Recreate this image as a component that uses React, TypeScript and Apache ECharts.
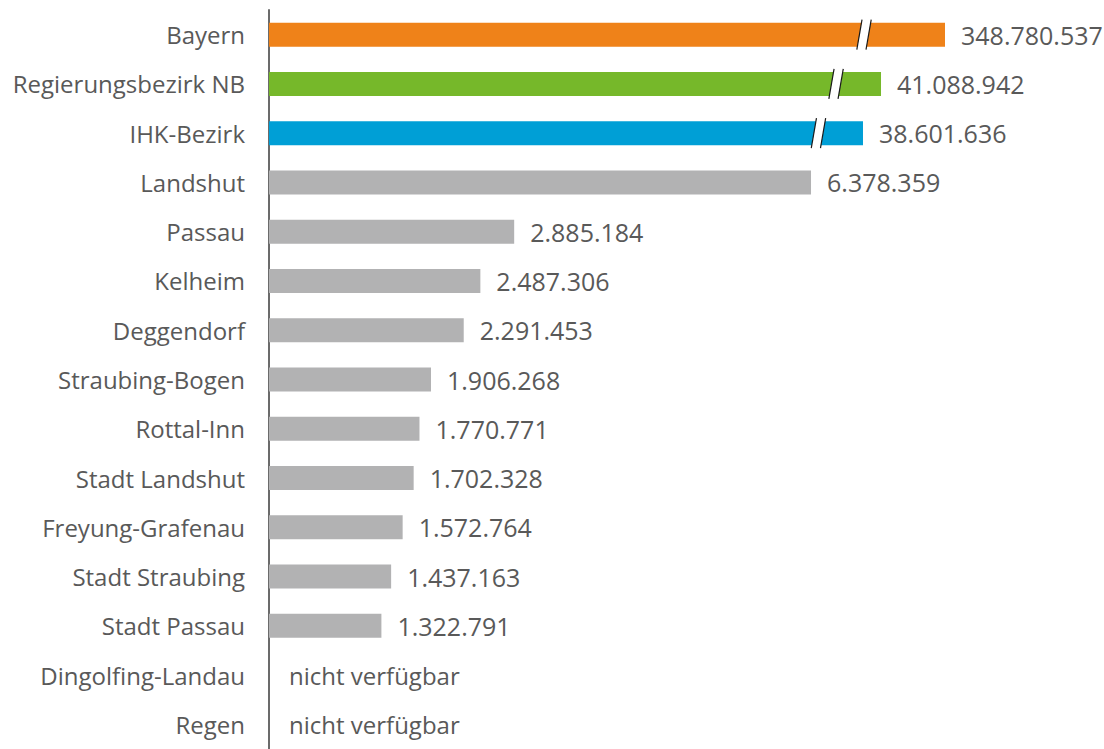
import React, { useEffect, useRef } from "react";
import * as echarts from "echarts";

const categories = [
  "Bayern",
  "Regierungsbezirk NB",
  "IHK-Bezirk",
  "Landshut",
  "Passau",
  "Kelheim",
  "Deggendorf",
  "Straubing-Bogen",
  "Rottal-Inn",
  "Stadt Landshut",
  "Freyung-Grafenau",
  "Stadt Straubing",
  "Stadt Passau",
  "Dingolfing-Landau",
  "Regen",
];

// actual values (null = nicht verfügbar)
const values: (number | null)[] = [
  348780537, 41088942, 38601636, 6378359, 2885184, 2487306, 2291453, 1906268,
  1770771, 1702328, 1572764, 1437163, 1322791, null, null,
];

// drawn bar length on the broken axis (only differs for the first three)
const displayValues: (number | null)[] = [
  7955000, 7202000, 6990000, 6378359, 2885184, 2487306, 2291453, 1906268,
  1770771, 1702328, 1572764, 1437163, 1322791, null, null,
];

// where the axis break mark sits (data units), per broken bar
const breakCategories = [0, 1, 2];
const breakValues = [7002000, 6673000, 6466000];

const barColors = [
  "#EF8219",
  "#76B82A",
  "#009FD6",
  "#B2B2B3",
  "#B2B2B3",
  "#B2B2B3",
  "#B2B2B3",
  "#B2B2B3",
  "#B2B2B3",
  "#B2B2B3",
  "#B2B2B3",
  "#B2B2B3",
  "#B2B2B3",
  "#B2B2B3",
  "#B2B2B3",
];

const naText = "nicht verfügbar";
const textColor = "#595959";
const fontFamily = "'Open Sans', sans-serif";

function fmt(v: number): string {
  return String(v).replace(/\B(?=(\d{3})+(?!\d))/g, ".");
}

export default function App() {
  const ref = useRef<HTMLDivElement>(null);
  useEffect(() => {
    if (!ref.current) return;
    const chart = echarts.init(ref.current, undefined, { renderer: "svg" });
    const barData = displayValues.map((v, i) => {
      const real = values[i];
      return {
        value: v === null ? 0 : v,
        itemStyle: { color: barColors[i] },
        label: {
          show: true,
          position: "right",
          distance: real === null ? 20 : 16,
          formatter: real === null ? naText : fmt(real),
          color: textColor,
          fontSize: real === null ? 24 : 25,
          fontFamily,
        },
      };
    });
    chart.setOption({
      animation: false,
      grid: { left: 269, top: 10, width: 764.8, height: 741.5, containLabel: false },
      xAxis: {
        type: "value",
        min: 0,
        max: 9000000,
        show: false,
      },
      yAxis: {
        type: "category",
        data: categories,
        inverse: true,
        axisLine: { show: true, lineStyle: { color: "#6B6B6B", width: 2 } },
        axisTick: { show: false },
        axisLabel: {
          color: textColor,
          fontSize: 24,
          fontFamily,
          margin: 24,
        },
      },
      series: [
        {
          type: "bar",
          data: barData,
          barWidth: 24,
          z: 2,
        },
        {
          type: "custom",
          z: 5,
          data: breakCategories.map((c, i) => [breakValues[i], c]),
          renderItem: (params: any, api: any) => {
            const p = api.coord([api.value(0), api.value(1)]);
            const x = p[0];
            const y = p[1];
            const h = 15;
            const s = 2.6;
            const g = 4.6;
            return {
              type: "group",
              children: [
                {
                  type: "polygon",
                  shape: {
                    points: [
                      [x - g - s, y + h],
                      [x - g + s, y - h],
                      [x + g + s, y - h],
                      [x + g - s, y + h],
                    ],
                  },
                  style: { fill: "#ffffff" },
                },
                {
                  type: "line",
                  shape: { x1: x - g - s, y1: y + h, x2: x - g + s, y2: y - h },
                  style: { stroke: "#1a1a1a", lineWidth: 1.2 },
                },
                {
                  type: "line",
                  shape: { x1: x + g - s, y1: y + h, x2: x + g + s, y2: y - h },
                  style: { stroke: "#1a1a1a", lineWidth: 1.2 },
                },
              ],
            };
          },
        },
      ],
    });
    return () => chart.dispose();
  }, []);
  return (
    <div
      ref={ref}
      style={{ position: "fixed", left: 0, top: 0, width: 1104, height: 749, background: "#fff" }}
    />
  );
}
